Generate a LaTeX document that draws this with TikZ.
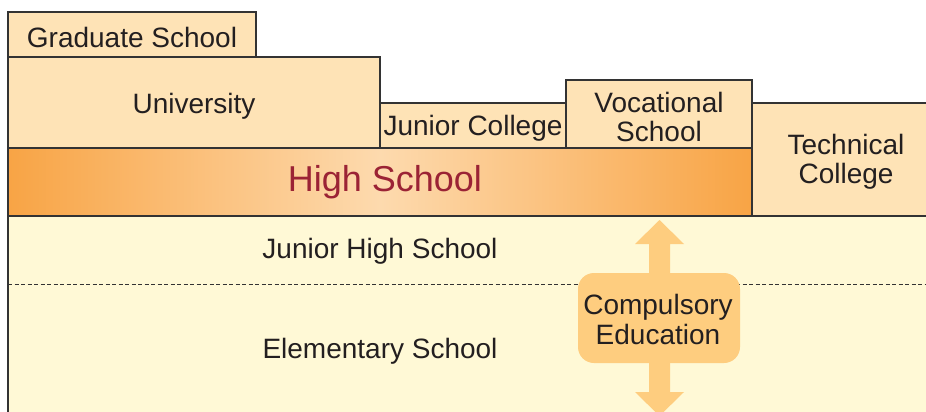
\documentclass[tikz,border=0pt]{standalone}
\usepackage{fontspec}
\setmainfont{Liberation Sans}
\definecolor{peach}{HTML}{FEE3B6}
\definecolor{lowyellow}{HTML}{FFF9D6}
\definecolor{hsorange}{HTML}{F8A445}
\definecolor{hslight}{HTML}{FDDAAE}
\definecolor{compfill}{HTML}{FECD7F}
\definecolor{edge}{HTML}{333333}
\definecolor{ink}{HTML}{231F20}
\definecolor{hsred}{HTML}{9B2335}
\begin{document}
\begin{tikzpicture}[x=1pt,y=-1pt,
  box/.style={draw=edge, line width=1.2pt, fill=peach},
  lbl/.style={font=\fontsize{28}{29.5}\selectfont, text=ink, align=center, inner sep=0pt}]
\useasboundingbox (0,0) rectangle (926,412);
% lower band
\fill[lowyellow] (8,216) rectangle (930,420);
\draw[edge, line width=0.9pt, dash pattern=on 4pt off 2.5pt] (8,284) -- (926,284);
\draw[edge, line width=1.2pt] (8,420) -- (8,216) -- (930,216);
% boxes
\draw[box] (8,12) rectangle (256,57);
\draw[box] (8,57) rectangle (380,148);
\draw[box] (380,103) rectangle (566,148);
\draw[box] (566,80) rectangle (752,148);
\draw[box] (752,103) rectangle (932,216);
\shade[left color=hsorange, right color=hsorange, middle color=hslight] (8,148) rectangle (752,216);
\draw[edge, line width=1.2pt] (8,148) rectangle (752,216);
% compulsory arrow
\fill[compfill] (659.5,220) -- (684,244) -- (670,244) -- (670,392) -- (684,392) -- (659.5,416)
  -- (635,392) -- (649,392) -- (649,244) -- (635,244) -- cycle;
\fill[compfill, rounded corners=16pt] (578,273) rectangle (740,363);
% labels
\node[lbl] (grad) at (132,37.5) {Graduate School};
\node[lbl] (univ) at (194,106) {University};
\node[lbl] (jc) at (473,128) {Junior College};
\node[lbl] (voc) at (659,117) {Vocational\\School};
\node[lbl] (tech) at (846,162) {Technical\\College};
\node[lbl, font=\fontsize{36}{38}\selectfont, text=hsred] (hs) at (385,182) {High School};
\node[lbl] (jhs) at (380,251) {Junior High School};
\node[lbl] (elem) at (380,351) {Elementary School};
\node[lbl] (comp) at (658,319.5) {Compulsory\\Education};
\end{tikzpicture}
\end{document}
